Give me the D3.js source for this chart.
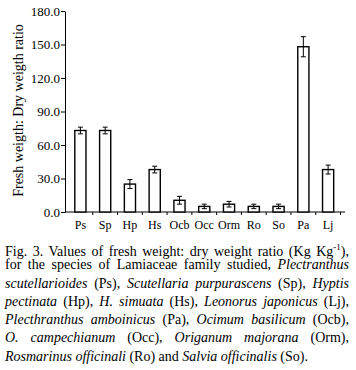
<!DOCTYPE html>
<html>
<head>
<meta charset="utf-8">
<script src="https://cdn.jsdelivr.net/npm/d3@7"></script>
<style>
  body { margin: 0; background: #fff; width: 356px; height: 370px; overflow: hidden; position: relative; font-family: "Times New Roman", Times, "Liberation Serif", serif; }
  svg { position: absolute; left: 0; top: 0; }
  svg text { font-family: "Times New Roman", Times, "Liberation Serif", serif; }
  .axis text { font-size: 13px; fill: #000; }
  .axis line, .axis path { stroke: #000; }
  .caption { position: absolute; left: 5px; top: 238px; width: 344px; font-size: 14px; line-height: 18.3px; color: #000; }
  .caption div { text-align: justify; text-align-last: justify; white-space: nowrap; }
  .caption div.last { text-align-last: left; }
</style>
</head>
<body>
<div id="chart"></div>
<script>
// values
const categories = ["Ps", "Sp", "Hp", "Hs", "Ocb", "Occ", "Orm", "Ro", "So", "Pa", "Lj"];
const ratio = [73, 73, 25, 38, 10.5, 5, 7, 5, 5, 148, 38];
const errors = [3, 3, 4, 3, 3.5, 2, 2.5, 2, 2, 9, 4];
const yTicks = [0, 30, 60, 90, 120, 150, 180];

const width = 356, height = 236;

const svg = d3.select("#chart").append("svg")
  .attr("width", width)
  .attr("height", height);

const x = d3.scaleBand()
  .domain(categories)
  .range([68, 340.5])
  .paddingInner(0.55)
  .paddingOuter(0.275);

const y = d3.scaleLinear()
  .domain([0, 180])
  .range([212, 11]);

// y axis
svg.append("g")
  .attr("class", "axis")
  .attr("transform", "translate(65,0)")
  .call(d3.axisLeft(y)
    .tickValues(yTicks)
    .tickSize(4)
    .tickSizeOuter(0)
    .tickFormat(d3.format(".1f")))
  .call(g => g.selectAll("text").attr("x", -5).attr("font-family", null));

// x axis line, labels and small ticks at category boundaries
const xAxis = svg.append("g").attr("class", "axis");

xAxis.append("line")
  .attr("x1", 65).attr("x2", 345)
  .attr("y1", y(0)).attr("y2", y(0))
  .attr("stroke-width", 1.2);

const bounds = d3.range(categories.length + 1).map(i => x.range()[0] + i * x.step());
xAxis.selectAll(".xtick")
  .data(bounds.slice(1))
  .enter()
  .append("line")
  .attr("class", "xtick")
  .attr("x1", d => d).attr("x2", d => d)
  .attr("y1", y(0)).attr("y2", y(0) + 3);

xAxis.selectAll(".xlabel")
  .data(categories)
  .enter()
  .append("text")
  .attr("class", "xlabel")
  .attr("x", d => x(d) + x.bandwidth() / 2)
  .attr("y", 229)
  .attr("text-anchor", "middle")
  .style("font-size", "12px")
  .text(d => d);

// bars
const bars = svg.selectAll(".bar")
  .data(categories)
  .enter()
  .append("g")
  .attr("class", "bar");

bars.append("rect")
  .attr("x", d => x(d))
  .attr("y", (d, i) => y(ratio[i]))
  .attr("width", x.bandwidth())
  .attr("height", (d, i) => y(0) - y(ratio[i]))
  .attr("fill", "#fff")
  .attr("stroke", "#000")
  .attr("stroke-width", 1.4);

// error bars
const cx = d => x(d) + x.bandwidth() / 2;
bars.append("line")
  .attr("x1", cx).attr("x2", cx)
  .attr("y1", (d, i) => y(ratio[i] - errors[i]))
  .attr("y2", (d, i) => y(ratio[i] + errors[i]))
  .attr("stroke", "#000");

[1, -1].forEach(s => {
  bars.append("line")
    .attr("x1", d => cx(d) - 2.5).attr("x2", d => cx(d) + 2.5)
    .attr("y1", (d, i) => y(ratio[i] + s * errors[i]))
    .attr("y2", (d, i) => y(ratio[i] + s * errors[i]))
    .attr("stroke", "#000");
});

// y label
svg.append("text")
  .attr("transform", `translate(23,${(y(0) + y(180)) / 2 - 1}) rotate(-90)`)
  .attr("text-anchor", "middle")
  .style("font-size", "14px")
  .text("Fresh weigth: Dry weigth ratio");

// caption
const caption = d3.select("body").append("div").attr("class", "caption");
const lines = [
  "Fig. 3. Values of fresh weight: dry weight ratio (Kg Kg<sup style='font-size:9px'>-1</sup>),",
  "for the species of Lamiaceae family studied, <i>Plectranthus</i>",
  "<i>scutellarioides</i> (Ps), <i>Scutellaria purpurascens</i> (Sp), <i>Hyptis</i>",
  "<i>pectinata</i> (Hp), <i>H. simuata</i> (Hs), <i>Leonorus japonicus</i> (Lj),",
  "<i>Plecthranthus amboinicus</i> (Pa), <i>Ocimum basilicum</i> (Ocb),",
  "<i>O. campechianum</i> (Occ), <i>Origanum majorana</i> (Orm),",
  "<i>Rosmarinus officinali</i> (Ro) and <i>Salvia officinalis</i> (So)."
];
caption.selectAll("div")
  .data(lines)
  .enter()
  .append("div")
  .attr("class", (d, i) => i === lines.length - 1 ? "last" : null)
  .style("height", "18.3px")
  .html(d => d);
</script>
</body>
</html>
